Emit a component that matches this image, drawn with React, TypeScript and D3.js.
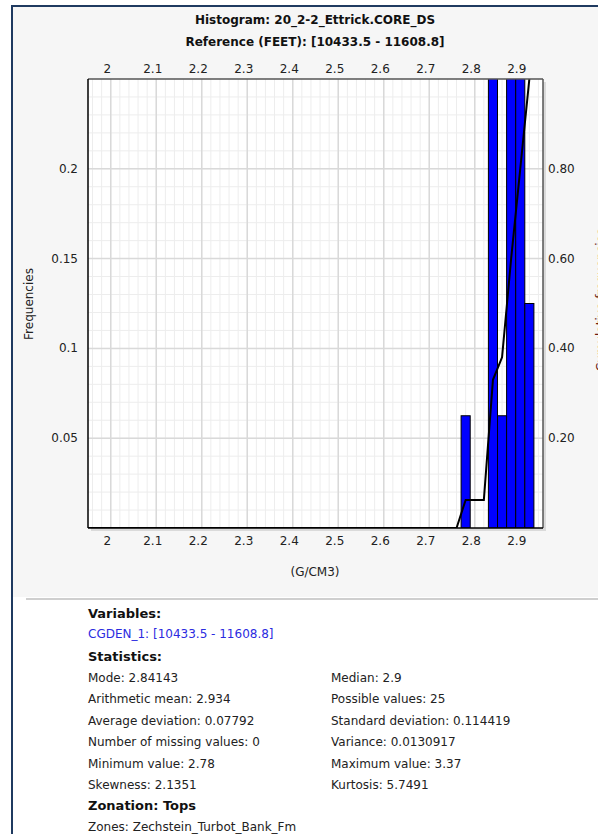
import React from "react";
import * as d3 from "d3";

// Histogram bins (G/CM3), 0.02 wide, and their relative frequencies
const binStarts = [2.77, 2.79, 2.81, 2.83, 2.85, 2.87, 2.89, 2.91];
const binFreqs = [0.0625, 0, 0, 0.28, 0.0625, 0.31, 0.3, 0.125];
const binWidth = 0.02;

// Cumulative frequency curve, sampled at bin centres
const cumX = [1.95, 2.76, 2.78, 2.8, 2.82, 2.84, 2.86, 2.88, 2.9, 2.92];
const cumY = [0, 0, 0.0625, 0.0625, 0.0625, 0.33, 0.38, 0.6, 0.8, 1.0];

const xTicks = [2, 2.1, 2.2, 2.3, 2.4, 2.5, 2.6, 2.7, 2.8, 2.9];
const xTickLabels = ["2", "2.1", "2.2", "2.3", "2.4", "2.5", "2.6", "2.7", "2.8", "2.9"];
const yTicks = [0.05, 0.1, 0.15, 0.2];
const yTickLabels = ["0.05", "0.1", "0.15", "0.2"];
const y2Ticks = [0.2, 0.4, 0.6, 0.8];
const y2TickLabels = ["0.20", "0.40", "0.60", "0.80"];

const titleLines = ["Histogram: 20_2-2_Ettrick.CORE_DS", "Reference (FEET): [10433.5 - 11608.8]"];
const xAxisTitle = "(G/CM3)";
const yAxisTitle = "Frequencies";
const y2AxisTitle = "Cumulative frequencies";

const statsLeft = [
  "Mode: 2.84143",
  "Arithmetic mean: 2.934",
  "Average deviation: 0.07792",
  "Number of missing values: 0",
  "Minimum value: 2.78",
  "Skewness: 2.1351",
];
const statsRight = [
  "Median: 2.9",
  "Possible values: 25",
  "Standard deviation: 0.114419",
  "Variance: 0.0130917",
  "Maximum value: 3.37",
  "Kurtosis: 5.7491",
];

const W = 598;
const H = 834;
const plot = { left: 88, right: 543, top: 79, bottom: 528 };
const FONT = "'DejaVu Sans', Verdana, sans-serif";

export default function App() {
  const x = d3.scaleLinear().domain([1.95, 2.95]).range([plot.left, plot.right]);
  const y = d3.scaleLinear().domain([0, 0.25]).range([plot.bottom, plot.top]);
  const y2 = d3.scaleLinear().domain([0, 1]).range([plot.bottom, plot.top]);

  const minorX = d3.range(1.96, 2.95, 0.02);
  const minorY = d3.range(0.01, 0.25, 0.01);

  const line = d3
    .line<number>()
    .x((_, i) => x(cumX[i]))
    .y((d) => y2(d));

  const labelDx = -3.5;

  return (
    <svg
      width={W}
      height={H}
      style={{ position: "absolute", left: 0, top: 0, background: "#ffffff" }}
      fontFamily={FONT}
    >
      <defs>
        <clipPath id="plotClip">
          <rect x={plot.left} y={plot.top} width={plot.right - plot.left} height={plot.bottom - plot.top} />
        </clipPath>
      </defs>

      {/* panel */}
      <rect x={13} y={7} width={W - 13} height={590} fill="#f6f6f6" />
      <line x1={12} y1={6} x2={W} y2={6} stroke="#1f3a60" strokeWidth={2} />
      <line x1={12} y1={5} x2={12} y2={H} stroke="#1f3a60" strokeWidth={2} />

      {/* titles */}
      {titleLines.map((t, i) => (
        <text key={t} x={315} y={24 + i * 22} textAnchor="middle" fontSize={12} fontWeight="bold" fill="#111">
          {t}
        </text>
      ))}

      {/* plot shadow and background */}
      <rect x={plot.left + 3} y={plot.top + 3} width={plot.right - plot.left} height={plot.bottom - plot.top} fill="#c8c8c8" opacity={0.6} />
      <rect x={plot.left} y={plot.top} width={plot.right - plot.left} height={plot.bottom - plot.top} fill="#ffffff" />

      {/* grid */}
      <g clipPath="url(#plotClip)">
        {minorX.map((v) => (
          <line key={"mx" + v} x1={x(v)} x2={x(v)} y1={plot.top} y2={plot.bottom} stroke="#ededed" strokeWidth={1} />
        ))}
        {minorY.map((v) => (
          <line key={"my" + v} x1={plot.left} x2={plot.right} y1={y(v)} y2={y(v)} stroke="#ededed" strokeWidth={1} />
        ))}
        {xTicks.map((v) => (
          <line key={"gx" + v} x1={x(v)} x2={x(v)} y1={plot.top} y2={plot.bottom} stroke="#d9d9d9" strokeWidth={1.5} />
        ))}
        {yTicks.map((v) => (
          <line key={"gy" + v} x1={plot.left} x2={plot.right} y1={y(v)} y2={y(v)} stroke="#d9d9d9" strokeWidth={1.5} />
        ))}

        {/* bars */}
        {binStarts.map((b, i) =>
          binFreqs[i] > 0 ? (
            <rect
              key={"bar" + i}
              x={x(b)}
              y={y(binFreqs[i])}
              width={x(b + binWidth) - x(b)}
              height={y(0) - y(binFreqs[i])}
              fill="#0000ff"
              stroke="#000"
              strokeWidth={1}
            />
          ) : null
        )}

        {/* cumulative curve */}
        <path d={line(cumY) || ""} fill="none" stroke="#000" strokeWidth={2} />
      </g>

      {/* frame */}
      <line x1={plot.left} y1={plot.top} x2={plot.right} y2={plot.top} stroke="#555" strokeWidth={1.5} />
      <line x1={plot.right} y1={plot.top} x2={plot.right} y2={plot.bottom} stroke="#555" strokeWidth={1.5} />
      <line x1={plot.left} y1={plot.top} x2={plot.left} y2={plot.bottom} stroke="#000" strokeWidth={1.5} />
      <line x1={plot.left} y1={plot.bottom} x2={plot.right} y2={plot.bottom} stroke="#000" strokeWidth={1.5} />

      {/* x tick labels, top and bottom */}
      {xTicks.map((v, i) => (
        <g key={"xt" + v}>
          <text x={x(v) + labelDx} y={73} textAnchor="middle" fontSize={12} fill="#222">
            {xTickLabels[i]}
          </text>
          <text x={x(v) + labelDx} y={545} textAnchor="middle" fontSize={12} fill="#222">
            {xTickLabels[i]}
          </text>
        </g>
      ))}
      <text x={315} y={576} textAnchor="middle" fontSize={12} fill="#222">
        {xAxisTitle}
      </text>

      {/* left y labels */}
      {yTicks.map((v, i) => (
        <text key={"yt" + v} x={78} y={y(v) + 4} textAnchor="end" fontSize={12} fill="#222">
          {yTickLabels[i]}
        </text>
      ))}
      <text transform={`translate(33,304) rotate(-90)`} textAnchor="middle" fontSize={12} fill="#222">
        {yAxisTitle}
      </text>

      {/* right y labels */}
      {y2Ticks.map((v, i) => (
        <text key={"y2t" + v} x={548} y={y2(v) + 4} textAnchor="start" fontSize={12} fill="#222">
          {y2TickLabels[i]}
        </text>
      ))}
      <text transform={`translate(605,300) rotate(-90)`} textAnchor="middle" fontSize={12} fill="#6b1a10">
        {y2AxisTitle}
      </text>

      {/* separator */}
      <line x1={26} y1={599} x2={W} y2={599} stroke="#cfcfcf" strokeWidth={2} />

      {/* statistics block */}
      <text x={88} y={618} fontSize={13} fontWeight="bold" fill="#111">Variables:</text>
      <text x={88} y={638} fontSize={12} fill="#2b2bdf">CGDEN_1: [10433.5 - 11608.8]</text>
      <text x={88} y={661} fontSize={13} fontWeight="bold" fill="#111">Statistics:</text>
      {statsLeft.map((s, i) => (
        <text key={s} x={88} y={682 + i * 21.4} fontSize={12} fill="#222">
          {s}
        </text>
      ))}
      {statsRight.map((s, i) => (
        <text key={s} x={331} y={682 + i * 21.4} fontSize={12} fill="#222">
          {s}
        </text>
      ))}
      <text x={88} y={810} fontSize={13} fontWeight="bold" fill="#111">Zonation: Tops</text>
      <text x={88} y={831} fontSize={12} fill="#222">Zones: Zechstein_Turbot_Bank_Fm</text>
    </svg>
  );
}
